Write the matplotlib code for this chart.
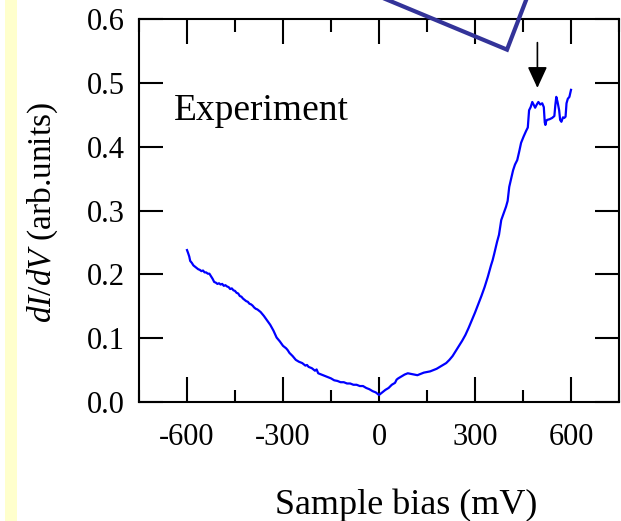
import matplotlib
matplotlib.use("Agg")
import matplotlib.pyplot as plt
from matplotlib.patches import Rectangle
from matplotlib.ticker import MultipleLocator

plt.rcParams["font.family"] = ["Liberation Serif", "DejaVu Serif"]
plt.rcParams["mathtext.fontset"] = "custom"
plt.rcParams["mathtext.rm"] = "Liberation Serif"
plt.rcParams["mathtext.it"] = "Liberation Serif:italic"
plt.rcParams["axes.unicode_minus"] = False

# ── data ───────────────────────────────────────────────────────────────────
bias_mv = [
    -600, -597, -593, -590, -585, -580, -575, -570, -565, -560,
    -555, -550, -545, -540, -535, -530, -525, -520, -515, -510,
    -505, -500, -495, -490, -485, -480, -475, -470, -465, -460,
    -455, -450, -445, -440, -435, -430, -425, -420, -415, -410,
    -405, -400, -395, -390, -385, -380, -375, -370, -365, -360,
    -350, -340, -330, -320, -315, -310, -300, -290, -285, -280,
    -270, -260, -250, -240, -230, -225, -220, -210, -200, -195,
    -190, -180, -170, -160, -150, -140, -130, -120, -110, -100,
    -90, -80, -70, -60, -50, -40, -30, -20, -10, 0,
    10, 20, 30, 40, 50, 55, 60, 70, 80, 90,
    100, 110, 120, 130, 140, 150, 160, 170, 180,
    190, 200, 210, 220, 230, 240, 250, 260, 270, 280,
    290, 300, 310, 320, 330, 340, 350, 355, 360, 369,
    375, 382, 390, 397, 402, 407, 413, 419, 425, 432,
    438, 444, 452, 460, 465, 469, 474, 479, 484, 488,
    493, 498, 504, 510, 515, 518, 520, 523, 526, 533,
    541, 548, 551, 554, 558, 563, 566, 570, 575, 579,
    583, 586, 590, 595, 600,
]
didv = [
    0.238, 0.234, 0.228, 0.221, 0.218, 0.214, 0.212, 0.210, 0.208, 0.207,
    0.205, 0.206, 0.203, 0.203, 0.201, 0.201, 0.197, 0.193, 0.188, 0.187,
    0.185, 0.186, 0.184, 0.185, 0.182, 0.183, 0.181, 0.180, 0.177, 0.178,
    0.175, 0.174, 0.171, 0.170, 0.166, 0.165, 0.162, 0.160, 0.158, 0.157,
    0.154, 0.153, 0.151, 0.148, 0.146, 0.145, 0.143, 0.141, 0.138, 0.135,
    0.128, 0.121, 0.112, 0.101, 0.098, 0.095, 0.088, 0.084, 0.081, 0.077,
    0.072, 0.066, 0.063, 0.061, 0.057, 0.058, 0.055, 0.053, 0.049, 0.051,
    0.045, 0.043, 0.041, 0.039, 0.037, 0.034, 0.033, 0.031, 0.031, 0.029,
    0.029, 0.027, 0.027, 0.025, 0.025, 0.022, 0.020, 0.017, 0.015, 0.011,
    0.015, 0.019, 0.022, 0.027, 0.030, 0.035, 0.037, 0.040, 0.043, 0.045,
    0.044, 0.043, 0.042, 0.044, 0.046, 0.047, 0.048, 0.050, 0.052,
    0.055, 0.058, 0.061, 0.066, 0.072, 0.080, 0.088, 0.096, 0.105, 0.116,
    0.128, 0.140, 0.153, 0.166, 0.180, 0.196, 0.214, 0.222, 0.232, 0.251,
    0.262, 0.285, 0.296, 0.306, 0.315, 0.337, 0.350, 0.363, 0.372, 0.379,
    0.392, 0.406, 0.416, 0.425, 0.430, 0.457, 0.462, 0.470, 0.465, 0.461,
    0.466, 0.470, 0.466, 0.468, 0.462, 0.438, 0.434, 0.441, 0.442, 0.443,
    0.445, 0.448, 0.465, 0.478, 0.470, 0.457, 0.442, 0.439, 0.446, 0.445,
    0.447, 0.468, 0.475, 0.478, 0.489,
]

x_ticks = [-600, -300, 0, 300, 600]
y_ticks = [0.0, 0.1, 0.2, 0.3, 0.4, 0.5, 0.6]

# corner of the inset frame poking into the plot (data units)
frame_x = [-12, 400, 466]
frame_y = [0.638, 0.552, 0.638]

arrow_x = 495
arrow_from, arrow_to = 0.563, 0.492

# ── figure ────────────────────────────────────────────────────────────────
fig = plt.figure(figsize=(6.21, 5.21), dpi=100)
fig.patches.append(Rectangle((5 / 621, 0), 12 / 621, 1, transform=fig.transFigure,
                             facecolor="#FFFFCC", edgecolor="none", zorder=0))

ax = fig.add_axes([139 / 621, 1 - 402 / 521, 480 / 621, 383 / 521])
ax.plot(bias_mv, didv, color="#0000FF", lw=1.6)

ax.set_xlim(-750, 750)
ax.set_ylim(0, 0.6)
ax.set_xticks(x_ticks)
ax.set_xticklabels([str(t) for t in x_ticks])
ax.xaxis.set_minor_locator(MultipleLocator(150))
ax.set_yticks(y_ticks)
ax.set_yticklabels([f"{t:.1f}" for t in y_ticks])

for s in ax.spines.values():
    s.set_linewidth(1.5)
ax.tick_params(which="both", direction="in", top=True, right=True,
               width=1.5, labelsize=22)
ax.tick_params(axis="x", which="major", length=18, pad=15)
ax.tick_params(axis="x", which="minor", length=9)
ax.tick_params(axis="y", which="major", length=17, pad=10)

ax.text(-642, 0.442, "Experiment", fontsize=27, ha="left", va="baseline")

ax.annotate("", xy=(arrow_x, arrow_to), xytext=(arrow_x, arrow_from),
            annotation_clip=False,
            arrowprops=dict(arrowstyle="-|>,head_length=1.3,head_width=0.6",
                            color="black", lw=1.2, shrinkA=0, shrinkB=0))

ax.plot(frame_x, frame_y, color="#333399", lw=3.0, clip_on=False,
        solid_joinstyle="miter", zorder=5)

fig.text(406 / 621, 7 / 521, "Sample bias (mV)", fontsize=26,
         ha="center", va="baseline")
fig.text(43 / 621, 1 - 212 / 521, r"$dI/dV$ (arb.units)", fontsize=24,
         rotation=90, ha="center", va="center")

fig.savefig("out.png", dpi=100)
